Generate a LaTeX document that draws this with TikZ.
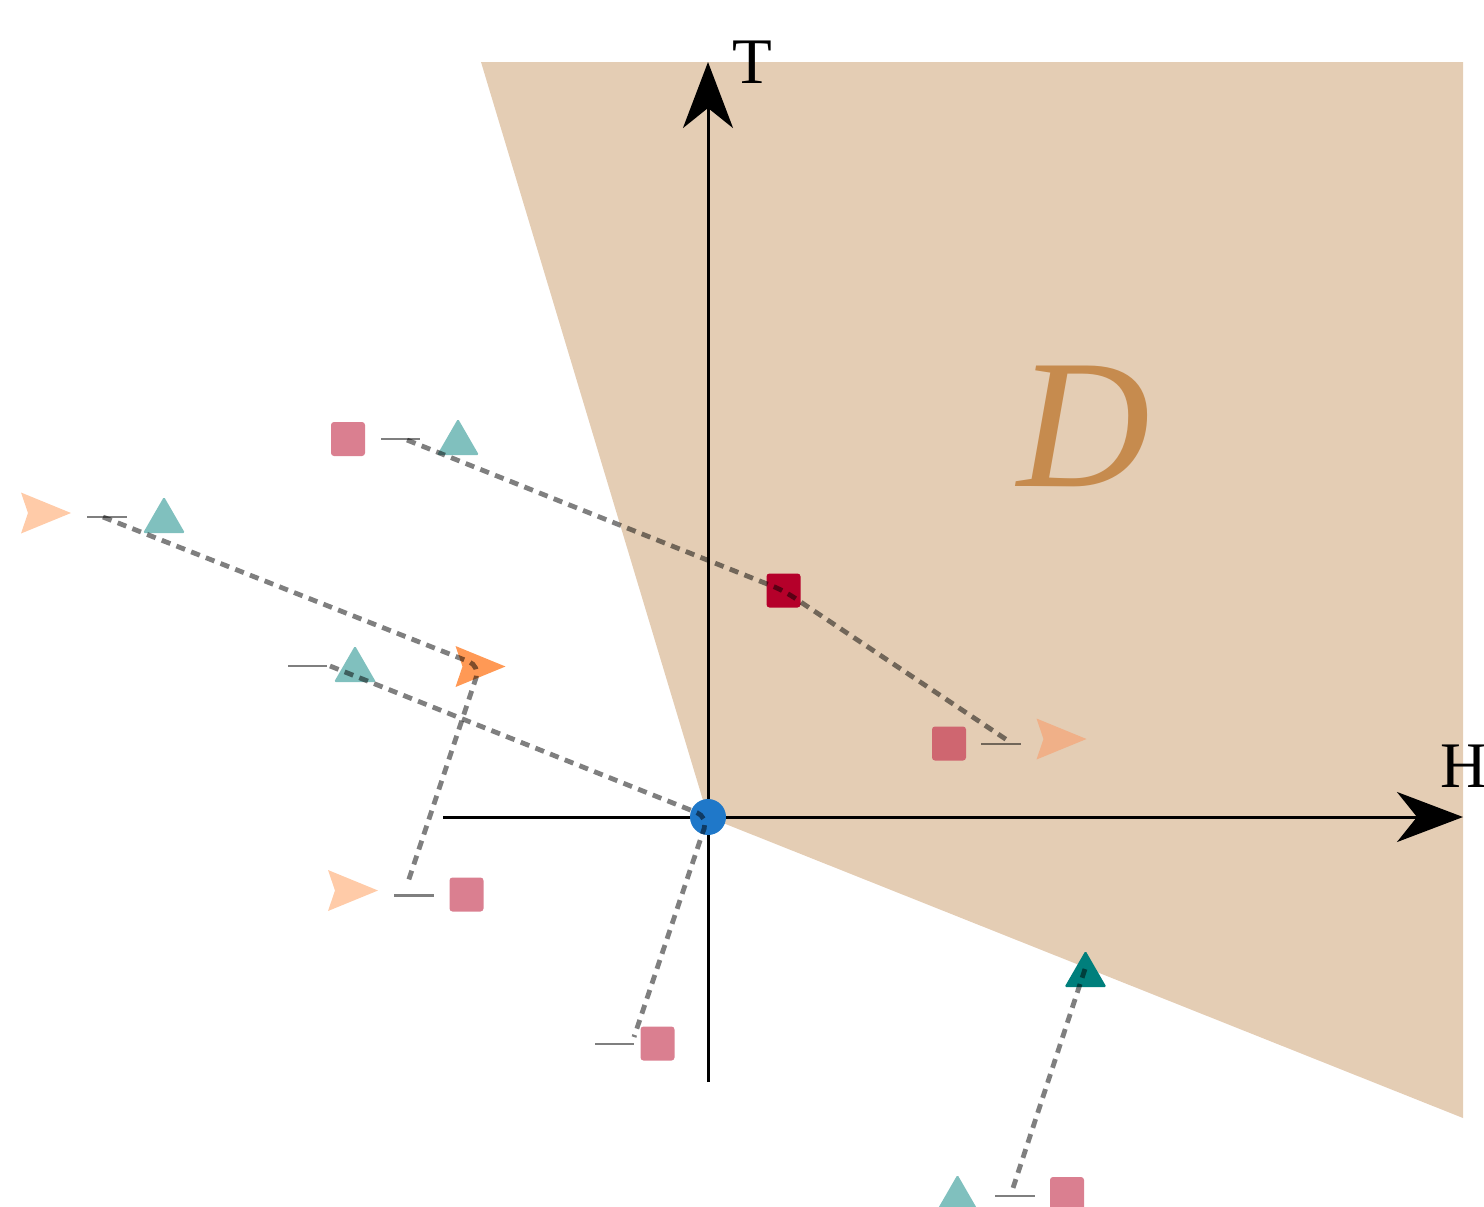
\documentclass[tikz,border=0pt]{standalone}
\usepackage{fontspec}
\setmainfont{Liberation Serif}
\usetikzlibrary{shapes.geometric,arrows.meta}
\definecolor{regionbg}{HTML}{E4CDB4}
\definecolor{dlabel}{HTML}{C68B4E}
\definecolor{pinksq}{HTML}{DA7F90}
\definecolor{pinksqD}{HTML}{CF6670}
\definecolor{tealL}{HTML}{80C0BE}
\definecolor{tealD}{HTML}{007F7C}
\definecolor{peach}{HTML}{FFCBA8}
\definecolor{peachD}{HTML}{F0B088}
\definecolor{orangeM}{HTML}{FF9955}
\definecolor{blueO}{HTML}{1F78C9}
\definecolor{darkred}{HTML}{B5002A}
\begin{document}
\begin{tikzpicture}[x=0.5pt,y=-0.5pt,
  sqmark/.style={rectangle,minimum size=17pt,inner sep=0pt,rounded corners=1.5pt,fill=#1},
  trimark/.style={regular polygon,regular polygon sides=3,minimum size=24.25pt,inner sep=0pt,fill=#1,rounded corners=0.8pt},
  dartmark/.pic={\fill[#1,line join=round] (25,0) -- (-25,-20.5) -- (-18,0) -- (-25,20.5) -- cycle;},
  tickline/.style={draw=black,opacity=0.5,line width=1.25pt},
  link/.style={draw=black,opacity=0.5,line width=2.4pt,dash pattern=on 4.6pt off 3.3pt,rounded corners=6pt},
  axis/.style={line width=1.5pt,-{Stealth[length=33pt,width=25pt,inset=10pt]}},
  axlabel/.style={inner sep=0pt,anchor=base west,font=\fontsize{32.5}{36}\selectfont}]
\useasboundingbox (0,0) rectangle (1484,1206);
% region D
\fill[regionbg] (481,62) -- (1463,62) -- (1463,1118) -- (708,817) -- cycle;
\node[inner sep=0pt,anchor=base west,text=dlabel,font=\fontsize{92}{100}\selectfont\itshape] (Dlab) at (1017,486) {D};
% axes
\coordinate (xl) at (443,817);
\coordinate (xr) at (1463,817);
\coordinate (yb) at (708,1082);
\coordinate (yt) at (708,62);
\draw[axis] (xl) -- (xr);
\draw[axis] (yb) -- (yt);
\node[axlabel] (Tlab) at (732,83) {T};
\node[axlabel] (Hlab) at (1440,787) {H};
% markers
\node[sqmark=pinksq] (sqA) at (348,439) {};
\node[trimark=tealL] (trA) at (458,443) {};
\pic at (46,513) {dartmark=peach};
\coordinate (drB) at (46,513);
\node[trimark=tealL] (trB) at (164,521) {};
\node[trimark=tealL] (trC) at (355,670) {};
\pic at (480.5,666.5) {dartmark=orangeM};
\coordinate (drO) at (480,666);
\pic at (353,890.5) {dartmark=peach};
\coordinate (drC) at (353,890.5);
\node[sqmark=pinksq] (sqC) at (466.5,894.5) {};
\node[sqmark=pinksq] (sqE) at (657.5,1043.5) {};
\node[sqmark=darkred] (sqR) at (783.5,590.5) {};
\node[sqmark=pinksqD] (sqF) at (949,743.5) {};
\pic at (1061.5,739) {dartmark=peachD};
\coordinate (drF) at (1061.5,739);
\node[trimark=tealD] (trG) at (1085.5,975) {};
\node[trimark=tealL] (trH) at (957.5,1199) {};
\node[sqmark=pinksq] (sqH) at (1067,1194) {};
\node[circle,fill=blueO,minimum size=18pt,inner sep=0pt] (orig) at (708,817) {};
% tick lines
\coordinate (t1a) at (381,439); \coordinate (t1b) at (420,439);
\coordinate (t2a) at (87,517);  \coordinate (t2b) at (127,517);
\coordinate (t3a) at (288,666); \coordinate (t3b) at (327,666);
\coordinate (t4a) at (394,895.5); \coordinate (t4b) at (434,895.5);
\coordinate (t5a) at (595,1044); \coordinate (t5b) at (634,1044);
\coordinate (t6a) at (981,744); \coordinate (t6b) at (1021,744);
\coordinate (t7a) at (995,1196); \coordinate (t7b) at (1035,1196);
\foreach \i in {1,...,7} {\draw[tickline] (t\i a) -- (t\i b);}
% dashed links
\coordinate (s1) at (407,440); \coordinate (e1) at (1010,742);
\coordinate (s2) at (103,517); \coordinate (e2) at (407,885);
\coordinate (s3) at (330,666); \coordinate (e3) at (634,1037);
\coordinate (s4) at (1085,969); \coordinate (e4) at (1013,1188);
\draw[link] (s1) -- (sqR.center) -- (e1);
\draw[link] (s2) -- (drO) -- (e2);
\draw[link] (s3) -- (orig.center) -- (e3);
\draw[link] (s4) -- (e4);
\end{tikzpicture}
\end{document}
